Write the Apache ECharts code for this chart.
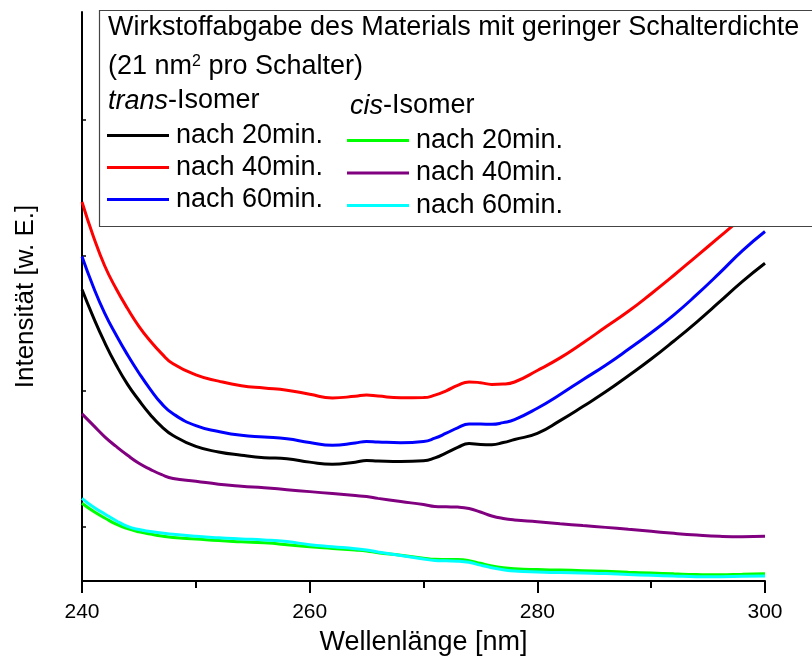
<!DOCTYPE html>
<html>
<head>
<meta charset="utf-8">
<script src="https://cdn.jsdelivr.net/npm/echarts@6/dist/echarts.min.js"></script>
<style>
  html, body { margin: 0; padding: 0; background: #fff; }
  #chart { width: 812px; height: 661px; }
</style>
</head>
<body>
<div id="chart"></div>
<script>
// wavelength grid (nm)
var wavelength = [240, 241, 242, 243, 244, 245, 246, 247, 248, 250, 252, 254, 256, 258, 260,
                  262, 264, 265, 266, 268, 270, 271, 272, 273, 274, 275, 276, 277, 278, 280,
                  282, 284, 286, 288, 290, 292, 294, 296, 298, 300];

// intensity, arbitrary units
var trans20 = [293.5, 265.5, 240, 217.5, 198, 182, 167.5, 155.5, 146.5, 135.5, 130, 126.7, 124.2, 123.2, 119.7,
               117.5, 119.7, 121.3, 120.8, 120.3, 121, 124, 129, 134.5, 138.5, 137.5, 137.3, 139.4, 142.5, 148.7,
               161.5, 175.7, 190.5, 206.7, 223.5, 241.7, 260.8, 281, 301.5, 320];
var trans40 = [381.7, 347, 317.2, 294.3, 274.4, 256.5, 241.7, 229, 218.7, 207.6, 201.3, 196.7, 194.4, 192.2, 188,
               184.4, 186, 187.3, 186.2, 184.6, 184.7, 187.2, 191.5, 197, 200.5, 199.7, 198, 198.3, 200.4, 212,
               224.7, 239.7, 255.7, 271.6, 289.3, 307.9, 327.2, 346.5, 366, 386];
var trans60 = [326.7, 296, 269.5, 247.7, 227.7, 209.5, 193, 178.6, 168.4, 156.4, 150.6, 146.7, 145, 143.2, 139.5,
               136.7, 139, 140.5, 140, 139.3, 140.5, 143.8, 148.8, 154.3, 158, 158, 157.8, 159.5, 162.5, 174,
               187.8, 202.7, 217.3, 233.3, 250, 268, 288.3, 310, 332.5, 352];
var cis20 = [78.3, 70.2, 63.5, 57.2, 52.7, 49.5, 47.3, 45.3, 43.8, 42.3, 40.7, 39.5, 38.4, 36.6, 34.4,
             32.8, 31.2, 30.2, 28.5, 26, 23, 21.8, 21.7, 21.6, 20.5, 17.8, 15.2, 13.4, 12.4, 11.5,
             11, 10.4, 9.7, 8.8, 8, 7.2, 6.5, 6.2, 6.7, 7.3];
var cis40 = [168.3, 156.7, 145.2, 135.5, 126.6, 118.6, 112.4, 107.1, 103.3, 100.5, 97.5, 95.5, 94, 92, 90,
             88, 86, 85, 83.2, 80, 77, 75, 74.7, 74.4, 73, 69.5, 65.5, 63, 61.5, 59.7,
             57.7, 55.8, 54, 52, 50, 48, 46.3, 45, 44.5, 45];
var cis60 = [83.3, 74.5, 67.5, 60.7, 55, 51.8, 49.9, 48.4, 47, 45, 43.5, 42.4, 41.4, 39.7, 36.6,
             34.5, 32.5, 31.2, 29.2, 25.6, 22.2, 20.7, 20.3, 20, 18.8, 16, 13.4, 11.4, 10, 9,
             8.5, 8, 7.5, 6.5, 5.7, 5, 4.4, 4.4, 4.7, 5];

var yTicks = [55, 191.5, 328, 464.5];

var seriesNames = ['t20', 't40', 't60', 'c20', 'c40', 'c60'];
var seriesLabels = ['nach 20min.', 'nach 40min.', 'nach 60min.', 'nach 20min.', 'nach 40min.', 'nach 60min.'];
var seriesColors = ['#000000', '#ff0000', '#0000ff', '#00ff00', '#800080', '#00ffff'];
var seriesData = [trans20, trans40, trans60, cis20, cis40, cis60];

var FONT = "'Liberation Sans', Arial, sans-serif";

function pairUp(ys) {
    var out = [];
    for (var i = 0; i < wavelength.length; i++) {
        out.push([wavelength[i], ys[i]]);
    }
    return out;
}

var series = [];
for (var i = 0; i < seriesNames.length; i++) {
    series.push({
        name: seriesNames[i],
        type: 'line',
        data: pairUp(seriesData[i]),
        symbol: 'none',
        smooth: 0.5,
        color: seriesColors[i],
        lineStyle: { width: 3, color: seriesColors[i] }
    });
}

function legendLabel(name) {
    return seriesLabels[seriesNames.indexOf(name)];
}

// one legend column (trans or cis)
function legendColumn(names, left, top, gap) {
    return {
        data: names,
        orient: 'vertical',
        left: left,
        top: top,
        padding: 0,
        icon: 'rect',
        itemWidth: 62,
        itemHeight: 3,
        itemGap: gap,
        z: 10,
        selectedMode: false,
        formatter: legendLabel,
        textStyle: { fontSize: 27, color: '#000', fontFamily: FONT, padding: [0, 0, 0, 2] }
    };
}

var chart = echarts.init(document.getElementById('chart'), null, { renderer: 'canvas' });

chart.setOption({
    animation: false,
    backgroundColor: '#fff',
    textStyle: { fontFamily: FONT },
    grid: { left: 82, right: 47, top: 12, bottom: 76, containLabel: false },
    xAxis: {
        type: 'value',
        min: 240,
        max: 300,
        interval: 20,
        name: 'Wellenlänge [nm]',
        nameLocation: 'middle',
        nameGap: 48,
        nameTextStyle: { fontSize: 27, color: '#000', fontFamily: FONT },
        axisLine: { lineStyle: { color: '#000', width: 2 } },
        axisTick: { length: 12, lineStyle: { color: '#000', width: 2 } },
        minorTick: { show: true, splitNumber: 2, length: 7, lineStyle: { color: '#000', width: 2 } },
        axisLabel: { fontSize: 21, color: '#000', margin: 21, fontFamily: FONT },
        splitLine: { show: false }
    },
    yAxis: {
        type: 'value',
        min: 0,
        max: 573,
        name: 'Intensität [w. E.]',
        nameLocation: 'middle',
        nameGap: 43,
        nameTextStyle: { fontSize: 26, color: '#000', fontFamily: FONT },
        axisLine: { show: true, lineStyle: { color: '#000', width: 2 } },
        axisTick: { show: true, inside: true, length: 4, customValues: yTicks, lineStyle: { color: '#000', width: 1.5 } },
        axisLabel: { show: false },
        splitLine: { show: false }
    },
    legend: [
        legendColumn(seriesNames.slice(0, 3), 107, 122, 5),
        legendColumn(seriesNames.slice(3), 347, 127, 5.5)
    ],
    graphic: {
        elements: [
            {
                type: 'rect',
                z: 5,
                shape: { x: 99.5, y: 10.5, width: 800, height: 216 },
                style: { fill: '#fff', stroke: '#444', lineWidth: 1.2 }
            },
            {
                type: 'text',
                z: 10,
                x: 108,
                y: 28,
                style: {
                    text: 'Wirkstoffabgabe des Materials mit geringer Schalterdichte',
                    font: '27px ' + FONT,
                    fill: '#000',
                    verticalAlign: 'middle'
                }
            },
            {
                type: 'text',
                z: 10,
                x: 108,
                y: 67,
                style: {
                    text: '(21 nm{s|2} pro Schalter)',
                    font: '27px ' + FONT,
                    fill: '#000',
                    verticalAlign: 'middle',
                    rich: { s: { fontSize: 16, verticalAlign: 'top', padding: [0, 0, 6, 0], fontFamily: FONT } }
                }
            },
            {
                type: 'text',
                z: 10,
                x: 108,
                y: 101,
                style: {
                    text: '{i|trans}-Isomer',
                    font: '27px ' + FONT,
                    fill: '#000',
                    verticalAlign: 'middle',
                    rich: { i: { fontStyle: 'italic', fontSize: 27, fontFamily: FONT } }
                }
            },
            {
                type: 'text',
                z: 10,
                x: 350,
                y: 106,
                style: {
                    text: '{i|cis}-Isomer',
                    font: '27px ' + FONT,
                    fill: '#000',
                    verticalAlign: 'middle',
                    rich: { i: { fontStyle: 'italic', fontSize: 27, fontFamily: FONT } }
                }
            }
        ]
    },
    series: series
});
</script>
</body>
</html>
